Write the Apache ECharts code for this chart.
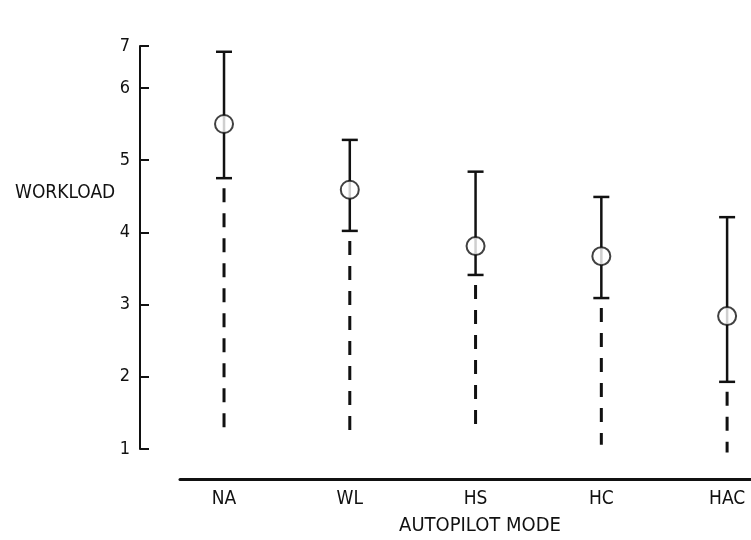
<!DOCTYPE html>
<html>
<head>
<meta charset="utf-8">
<script src="https://cdn.jsdelivr.net/npm/echarts@6/dist/echarts.min.js"></script>
<style>
  html, body { margin: 0; padding: 0; background: #fff; }
  #chart { width: 751px; height: 540px; }
</style>
</head>
<body>
<div id="chart"></div>
<script>
var categories = ['NA', 'WL', 'HS', 'HC', 'HAC'];
// mean workload (circles)
var means = [5.5, 4.59, 3.81, 3.67, 2.84];
// solid bar ends (caps)
var upper = [6.5, 5.28, 4.84, 4.49, 4.21];
var lower = [4.75, 4.02, 3.41, 3.09, 1.93];
// bottom of the dashed part
var dashLow = [1.26, 1.17, 1.24, 1.06, 0.95];
// y ticks: the top tick of the original is drawn short of 7 but labelled 7
var yTickValues = [1, 2, 3, 4, 5, 6, 6.58];
var yTickLabels = ['1', '2', '3', '4', '5', '6', '7'];

var font = "'Liberation Sans Narrow', 'DejaVu Sans Condensed', sans-serif";

var chart = echarts.init(document.getElementById('chart'));

function idx(arr) {
    return arr.map(function (v, i) { return [i, v]; });
}

var option = {
    animation: false,
    title: [
        {
            text: 'WORKLOAD',
            left: 10, top: 179,
            textStyle: { fontFamily: font, fontSize: 19, fontWeight: 'normal', color: '#111' }
        },
        {
            text: 'AUTOPILOT MODE',
            left: 475, top: 511, textAlign: 'center',
            textStyle: { fontFamily: font, fontSize: 20, fontWeight: 'normal', color: '#111' }
        }
    ],
    grid: { left: 180, right: 0, top: 46, bottom: 91 },
    xAxis: {
        type: 'value',
        min: -0.35,
        max: 4.19,
        offset: 30,
        splitLine: { show: false },
        axisLine: { show: true, onZero: false, lineStyle: { color: '#111', width: 3 } },
        axisTick: { show: false },
        axisLabel: {
            customValues: [0, 1, 2, 3, 4],
            formatter: function (v) { return categories[v]; },
            fontFamily: font, fontSize: 19, color: '#111', margin: 11
        }
    },
    yAxis: {
        type: 'value',
        min: 1,
        max: 6.58,
        offset: 40,
        splitLine: { show: false },
        axisLine: { show: true, onZero: false, lineStyle: { color: '#111', width: 2 } },
        axisTick: {
            show: true, inside: true, length: 9,
            customValues: yTickValues,
            lineStyle: { color: '#111', width: 2 }
        },
        axisLabel: {
            customValues: yTickValues,
            formatter: function (v) { return yTickLabels[yTickValues.indexOf(v)]; },
            fontFamily: font, fontSize: 18, color: '#111', margin: 10
        }
    },
    series: [
        {
            // dashed lower range, drawn downward from just under the lower cap
            type: 'custom',
            data: categories.map(function (c, i) { return [i, dashLow[i], lower[i]]; }),
            renderItem: function (params, api) {
                var p0 = api.coord([api.value(0), api.value(1)]);
                var p1 = api.coord([api.value(0), api.value(2)]);
                return {
                    type: 'line',
                    shape: { x1: p1[0], y1: p1[1] + 10, x2: p0[0], y2: p0[1] },
                    style: { stroke: '#111', lineWidth: 3, lineDash: [14, 11] }
                };
            },
            silent: true,
            z: 2
        },
        {
            // solid error bar with caps
            type: 'custom',
            data: categories.map(function (c, i) { return [i, lower[i], upper[i]]; }),
            renderItem: function (params, api) {
                var lo = api.coord([api.value(0), api.value(1)]);
                var hi = api.coord([api.value(0), api.value(2)]);
                var w = 8;
                return {
                    type: 'group',
                    children: [
                        { type: 'line', shape: { x1: lo[0], y1: lo[1], x2: hi[0], y2: hi[1] },
                          style: { stroke: '#111', lineWidth: 2.5 } },
                        { type: 'line', shape: { x1: lo[0] - w, y1: lo[1], x2: lo[0] + w, y2: lo[1] },
                          style: { stroke: '#111', lineWidth: 2.5 } },
                        { type: 'line', shape: { x1: hi[0] - w, y1: hi[1], x2: hi[0] + w, y2: hi[1] },
                          style: { stroke: '#111', lineWidth: 2.5 } }
                    ]
                };
            },
            silent: true,
            z: 3
        },
        {
            type: 'scatter',
            data: idx(means),
            symbol: 'circle',
            symbolSize: 18,
            itemStyle: { color: '#fff', borderColor: '#111', borderWidth: 2 },
            z: 4
        }
    ]
};

chart.setOption(option);
</script>
</body>
</html>
